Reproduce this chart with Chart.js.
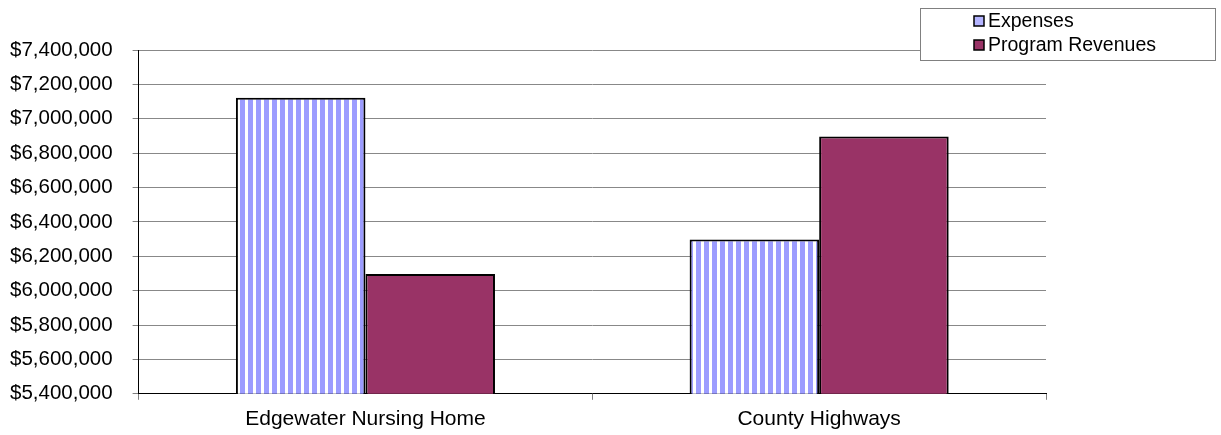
<!DOCTYPE html>
<html>
<head>
<meta charset="utf-8">
<script src="https://cdn.jsdelivr.net/npm/chart.js"></script>
<style>
  body { margin: 0; background: #fff; }
  #wrap { width: 1221px; height: 435px; }
</style>
</head>
<body>
<div id="wrap"><canvas id="chart"></canvas></div>
<script>
// data
const categories = ['Edgewater Nursing Home', 'County Highways'];
const expenses = [7122000, 6297000];
const programRevenues = [6097000, 6897000];
const yMin = 5400000;
const yMax = 7400000;
const yStep = 200000;

const FONT = 'Liberation Sans, Arial, sans-serif';

// vertical stripe fill for the Expenses bars
function stripes() {
  const c = document.createElement('canvas');
  c.width = 8;
  c.height = 8;
  const g = c.getContext('2d');
  g.fillStyle = '#ffffff';
  g.fillRect(0, 0, 8, 8);
  g.fillStyle = '#9c9cff';
  g.fillRect(0, 0, 5, 8);
  return g.createPattern(c, 'repeat');
}

// boxed legend in the top right corner, outside the plot
const boxLegend = {
  id: 'boxLegend',
  afterDraw(chart) {
    const ctx = chart.ctx;
    const x = chart.width - 301, y = 8, w = 295, h = 52;
    ctx.save();
    ctx.fillStyle = '#fff';
    ctx.fillRect(x, y, w, h);
    ctx.strokeStyle = '#808080';
    ctx.lineWidth = 1;
    ctx.strokeRect(x + 0.5, y + 0.5, w, h);
    ctx.font = '19.5px ' + FONT;
    ctx.textBaseline = 'middle';
    const swatch = ['#b4b4ff', '#993366'];
    chart.data.datasets.forEach(function(ds, i) {
      const cy = y + 13 + i * 24;
      ctx.fillStyle = swatch[i];
      ctx.fillRect(x + 54, cy - 5, 10, 10);
      ctx.strokeStyle = '#000';
      ctx.lineWidth = 1.5;
      ctx.strokeRect(x + 54, cy - 5, 10, 10);
      ctx.fillStyle = '#000';
      ctx.fillText(ds.label, x + 68, cy + 1);
    });
    ctx.restore();
  }
};

const ctx = document.getElementById('chart').getContext('2d');
new Chart(ctx, {
  type: 'bar',
  data: {
    labels: categories,
    datasets: [{
      label: 'Expenses',
      data: expenses,
      backgroundColor: stripes(),
      borderColor: '#000',
      borderWidth: 2
    }, {
      label: 'Program Revenues',
      data: programRevenues,
      backgroundColor: '#993366',
      borderColor: '#000',
      borderWidth: 2
    }]
  },
  options: {
    responsive: true,
    maintainAspectRatio: false,
    animation: false,
    devicePixelRatio: 1,
    datasets: {
      bar: { categoryPercentage: 0.571, barPercentage: 1 }
    },
    // chart.js counts tick padding twice, hence the negative side padding
    layout: { padding: { top: 50, right: 175, left: -10, bottom: -4 } },
    plugins: {
      legend: { display: false },
      tooltip: { enabled: false }
    },
    scales: {
      x: {
        grid: { drawOnChartArea: false, tickLength: 6, tickColor: '#808080' },
        border: { color: '#000', width: 1 },
        ticks: { color: '#000', font: { family: FONT, size: 21 }, padding: 7 }
      },
      y: {
        min: yMin,
        max: yMax,
        grid: { color: '#888', tickLength: 6, tickColor: '#808080' },
        border: { color: '#000', width: 1 },
        ticks: {
          stepSize: yStep,
          color: '#000',
          padding: 20,
          font: { family: FONT, size: 20.5 },
          callback: function(v) { return '$' + v.toLocaleString('en-US'); }
        }
      }
    }
  },
  plugins: [boxLegend]
});
</script>
</body>
</html>
